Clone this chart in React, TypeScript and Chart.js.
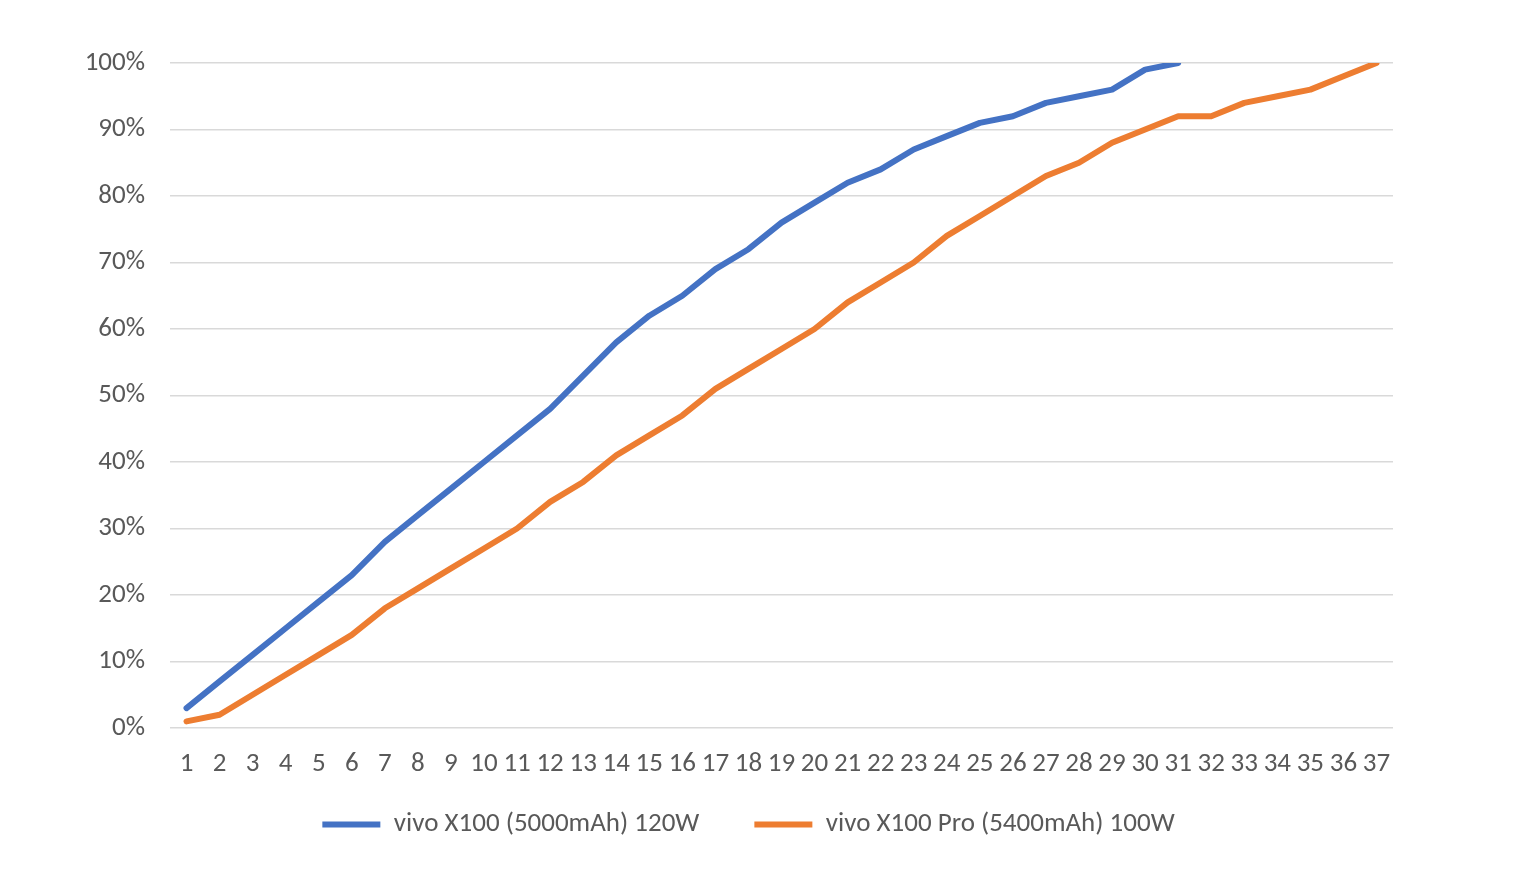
import React, { useEffect, useRef } from "react";
import { Chart, registerables } from "chart.js";

Chart.register(...registerables);

// minutes 1..37
const minutes = [
  "1", "2", "3", "4", "5", "6", "7", "8", "9", "10",
  "11", "12", "13", "14", "15", "16", "17", "18", "19", "20",
  "21", "22", "23", "24", "25", "26", "27", "28", "29", "30",
  "31", "32", "33", "34", "35", "36", "37",
];

const x100Label = "vivo X100 (5000mAh) 120W";
const x100Values = [
  3, 7, 11, 15, 19, 23, 28, 32, 36, 40,
  44, 48, 53, 58, 62, 65, 69, 72, 76, 79,
  82, 84, 87, 89, 91, 92, 94, 95, 96, 99,
  100,
];

const x100ProLabel = "vivo X100 Pro (5400mAh) 100W";
const x100ProValues = [
  1, 2, 5, 8, 11, 14, 18, 21, 24, 27,
  30, 34, 37, 41, 44, 47, 51, 54, 57, 60,
  64, 67, 70, 74, 77, 80, 83, 85, 88, 90,
  92, 92, 94, 95, 96, 98, 100,
];

const FONT = "Carlito, 'Noto Sans', sans-serif";
const TEXT = "#595959";

// nudge the legend so it sits like the original (centred a bit right of the plot centre);
// the legend clips to its own box, so grow the box too
const legendNudge = {
  id: "legendNudge",
  afterLayout(chart: any) {
    const l = chart.legend;
    if (!l) return;
    l.left += 52;
    l.right += 52;
    l.top -= 34;
    l.bottom = l.top + 120;
    l.height = 120;
  },
};

export default function App() {
  const chartRef = useRef<HTMLCanvasElement | null>(null);
  const chartInstanceRef = useRef<Chart | null>(null);

  useEffect(() => {
    if (!chartRef.current) return;
    const ctx = chartRef.current.getContext("2d");
    if (!ctx) return;

    if (chartInstanceRef.current) {
      chartInstanceRef.current.destroy();
    }

    chartInstanceRef.current = new Chart(ctx, {
      type: "line",
      data: {
        labels: minutes,
        datasets: [
          {
            label: x100Label,
            data: x100Values,
            borderColor: "#4472C4",
            backgroundColor: "#4472C4",
            borderWidth: 6,
            pointRadius: 0,
            borderJoinStyle: "round",
            borderCapStyle: "round",
            tension: 0,
          },
          {
            label: x100ProLabel,
            data: x100ProValues,
            borderColor: "#ED7D31",
            backgroundColor: "#ED7D31",
            borderWidth: 6,
            pointRadius: 0,
            borderJoinStyle: "round",
            borderCapStyle: "round",
            tension: 0,
          },
        ],
      },
      options: {
        animation: false,
        responsive: false,
        maintainAspectRatio: false,
        layout: {
          padding: { top: 63, right: 144, bottom: 44, left: 0 },
        },
        plugins: {
          tooltip: { enabled: false },
          legend: {
            position: "bottom",
            maxHeight: 40,
            labels: {
              color: TEXT,
              font: { family: FONT, size: 27 },
              usePointStyle: true,
              pointStyle: "line",
              pointStyleWidth: 58,
              padding: 55,
            },
          },
        },
        scales: {
          x: {
            offset: true,
            grid: { display: false, drawTicks: false },
            border: { display: false },
            ticks: {
              color: TEXT,
              font: { family: FONT, size: 27 },
              padding: 20,
              maxRotation: 0,
              autoSkip: false,
            },
            afterFit: (scale: any) => {
              scale.height = 62;
            },
          },
          y: {
            min: 0,
            max: 100,
            grid: { color: "#d9d9d9", lineWidth: 1.5, drawTicks: false },
            border: { display: false },
            ticks: {
              stepSize: 10,
              color: TEXT,
              font: { family: FONT, size: 27 },
              padding: 25,
              callback: (v: any) => `${v}%`,
            },
            afterFit: (scale: any) => {
              scale.width = 170;
            },
          },
        },
      },
      plugins: [legendNudge],
    });

    return () => {
      if (chartInstanceRef.current) {
        chartInstanceRef.current.destroy();
      }
    };
  }, []);

  return (
    <div style={{ position: "fixed", left: 0, top: 0, width: 1537, height: 874, background: "#fff" }}>
      <canvas ref={chartRef} width={1537} height={874} style={{ width: 1537, height: 874 }} />
    </div>
  );
}
